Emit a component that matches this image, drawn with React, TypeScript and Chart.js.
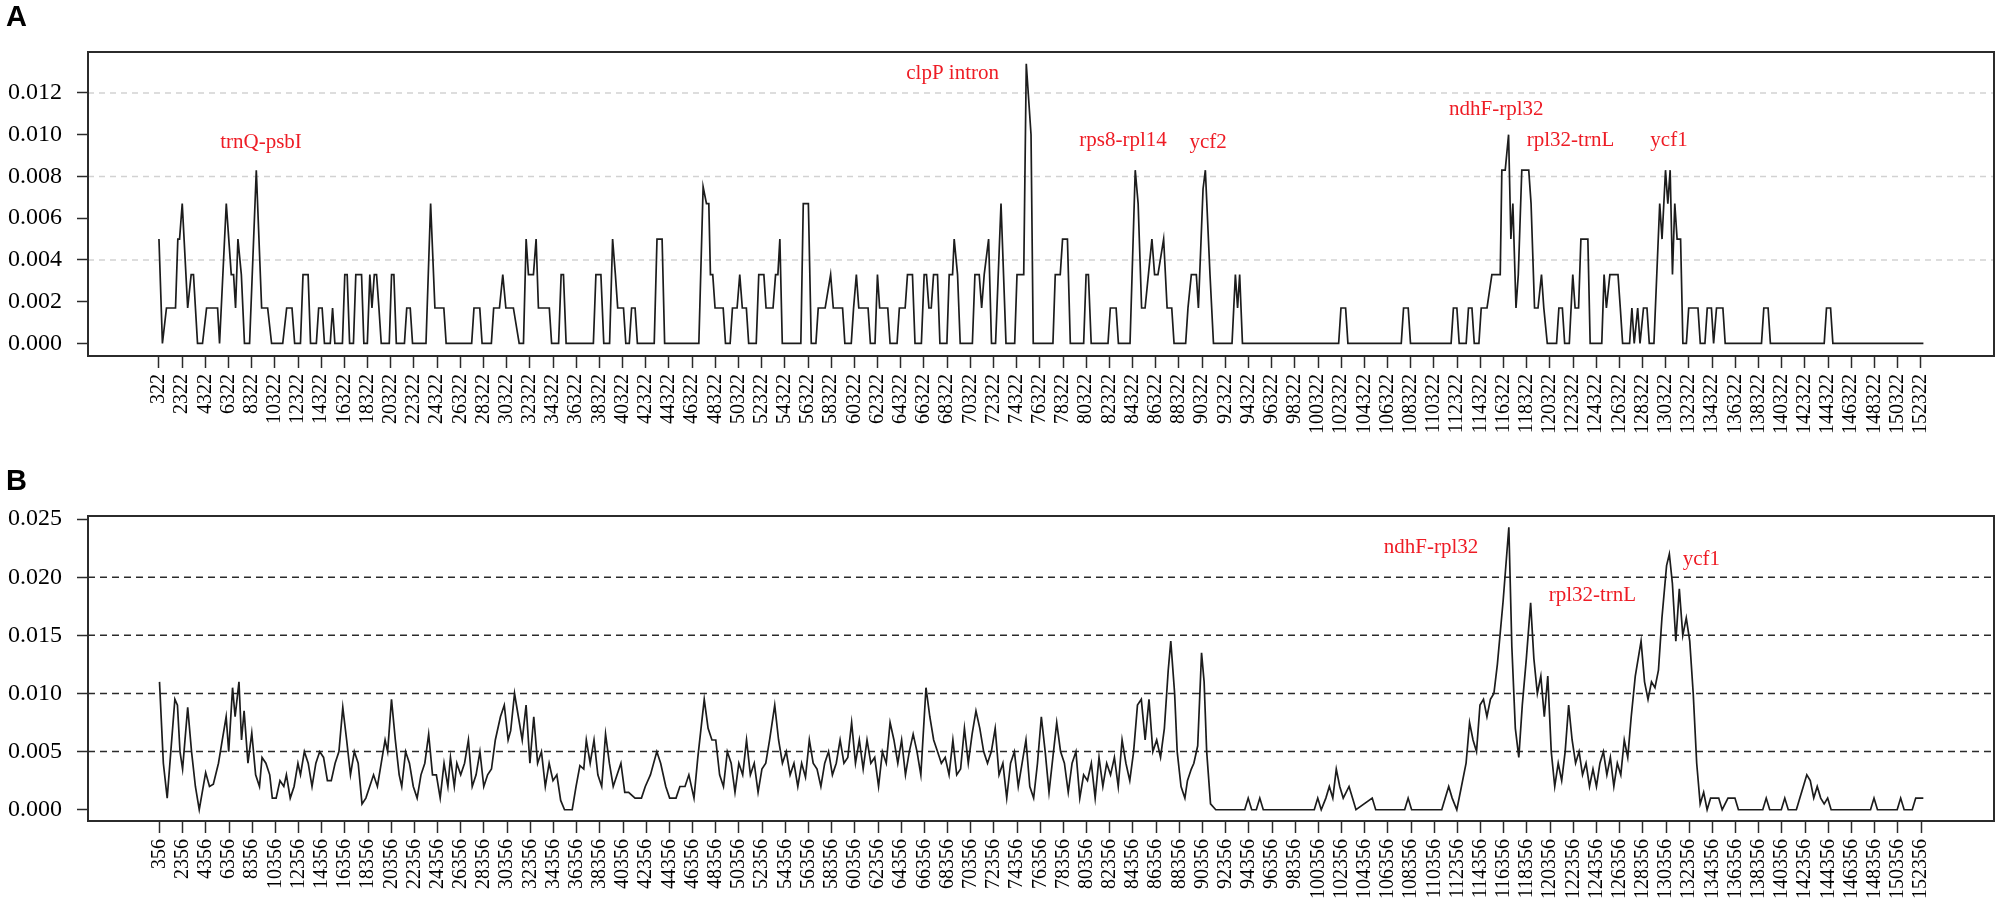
import React, { useEffect, useRef } from "react";
import { Chart, registerables } from "chart.js";
Chart.register(...registerables);

// ---------- tick labels ----------
const ticksA = [322, 2322, 4322, 6322, 8322, 10322, 12322, 14322, 16322, 18322, 20322, 22322, 24322, 26322, 28322, 30322, 32322, 34322, 36322, 38322, 40322, 42322, 44322, 46322, 48322, 50322, 52322, 54322, 56322, 58322, 60322, 62322, 64322, 66322, 68322, 70322, 72322, 74322, 76322, 78322, 80322, 82322, 84322, 86322, 88322, 90322, 92322, 94322, 96322, 98322, 100322, 102322, 104322, 106322, 108322, 110322, 112322, 114322, 116322, 118322, 120322, 122322, 124322, 126322, 128322, 130322, 132322, 134322, 136322, 138322, 140322, 142322, 144322, 146322, 148322, 150322, 152322];
const ticksB = [356, 2356, 4356, 6356, 8356, 10356, 12356, 14356, 16356, 18356, 20356, 22356, 24356, 26356, 28356, 30356, 32356, 34356, 36356, 38356, 40356, 42356, 44356, 46356, 48356, 50356, 52356, 54356, 56356, 58356, 60356, 62356, 64356, 66356, 68356, 70356, 72356, 74356, 76356, 78356, 80356, 82356, 84356, 86356, 88356, 90356, 92356, 94356, 96356, 98356, 100356, 102356, 104356, 106356, 108356, 110356, 112356, 114356, 116356, 118356, 120356, 122356, 124356, 126356, 128356, 130356, 132356, 134356, 136356, 138356, 140356, 142356, 144356, 146356, 148356, 150356, 152356];
const yTicksA = [0, 0.002, 0.004, 0.006, 0.008, 0.01, 0.012];
const yTicksB = [0, 0.005, 0.01, 0.015, 0.02, 0.025];
const gridA = [0.004, 0.008, 0.012];
const gridB = [0.005, 0.01, 0.015, 0.02];

// ---------- panel A series (window midpoint, Pi) ----------
const posA = [322, 620, 970, 1750, 1950, 2100, 2330, 2800, 3100, 3300, 3650, 4080, 4430, 5380, 5550, 6130, 6560, 6760, 6930, 7135, 7430, 7700, 8140, 8720, 9180, 9700, 10040, 11000, 11340, 11800, 12030, 12530, 12750, 13190, 13400, 13900, 14100, 14400, 14600, 15100, 15300, 15500, 16150, 16355, 16560, 16770, 17100, 17305, 17800, 18000, 18300, 18515, 18700, 18900, 19095, 19300, 19500, 20190, 20390, 20590, 20800, 21500, 21700, 22000, 22200, 23360, 23760, 24130, 24900, 25100, 27300, 27500, 28000, 28200, 29000, 29200, 29700, 29985, 30250, 30900, 31400, 31770, 32000, 32200, 32630, 32860, 33060, 34000, 34200, 34800, 35020, 35220, 35450, 37800, 38020, 38450, 38700, 39200, 39460, 39700, 39900, 40400, 40600, 40900, 41100, 41400, 41600, 43050, 43290, 43730, 43950, 46900, 47270, 47560, 47760, 47900, 48100, 48300, 49000, 49200, 49600, 49800, 50200, 50430, 50650, 51000, 51200, 51850, 52070, 52510, 52700, 53300, 53520, 53720, 53890, 54100, 55700, 55910, 56350, 56600, 57000, 57200, 57800, 58270, 58500, 59300, 59500, 60050, 60250, 60490, 60700, 61500, 61700, 62100, 62310, 62500, 63200, 63400, 64000, 64200, 64700, 64900, 65330, 65550, 66100, 66340, 66540, 66750, 66950, 67150, 67490, 67700, 68300, 68500, 68790, 68930, 69220, 69450, 70500, 70720, 71090, 71300, 71520, 71900, 72150, 72500, 72970, 73400, 74150, 74350, 74930, 75150, 75560, 75750, 77450, 77650, 78080, 78280, 78700, 78950, 80100, 80310, 80510, 80750, 82200, 82400, 82900, 83100, 84100, 84550, 84800, 85100, 85400, 85990, 86220, 86510, 87000, 87300, 87700, 87900, 88900, 89100, 89390, 89820, 90000, 90400, 90600, 91000, 91300, 92900, 93190, 93380, 93560, 93800, 102100, 102300, 102700, 102900, 107500, 107700, 108100, 108300, 111800, 112000, 112300, 112500, 113100, 113300, 113600, 113800, 114200, 114400, 114900, 115320, 116040, 116180, 116470, 116760, 116960, 117130, 117400, 117600, 117900, 118500, 118700, 119000, 119300, 119600, 119800, 120100, 120900, 121100, 121400, 121600, 122000, 122300, 122500, 122800, 123000, 123600, 123800, 124800, 125000, 125200, 125500, 126200, 126400, 126600, 127200, 127400, 127600, 127900, 128100, 128400, 128700, 128900, 129300, 129800, 130000, 130300, 130500, 130700, 130900, 131100, 131300, 131600, 131800, 132100, 132300, 133100, 133300, 133700, 133900, 134260, 134450, 134700, 135250, 135450, 138580, 138780, 139150, 139350, 143990, 144190, 144540, 144740, 152550];
const piA = [0.005, 0, 0.0017, 0.0017, 0.005, 0.005, 0.0067, 0.0017, 0.0033, 0.0033, 0, 0, 0.0017, 0.0017, 0, 0.0067, 0.0033, 0.0033, 0.0017, 0.005, 0.0033, 0, 0, 0.0083, 0.0017, 0.0017, 0, 0, 0.0017, 0.0017, 0, 0, 0.0033, 0.0033, 0, 0, 0.0017, 0.0017, 0, 0, 0.0017, 0, 0, 0.0033, 0.0033, 0, 0, 0.0033, 0.0033, 0, 0, 0.0033, 0.0017, 0.0033, 0.0033, 0.0017, 0, 0, 0.0033, 0.0033, 0, 0, 0.0017, 0.0017, 0, 0, 0.0067, 0.0017, 0.0017, 0, 0, 0.0017, 0.0017, 0, 0, 0.0017, 0.0017, 0.0033, 0.0017, 0.0017, 0, 0, 0.005, 0.0033, 0.0033, 0.005, 0.0017, 0.0017, 0, 0, 0.0033, 0.0033, 0, 0, 0.0033, 0.0033, 0, 0, 0.005, 0.0033, 0.0017, 0.0017, 0, 0, 0.0017, 0.0017, 0, 0, 0.005, 0.005, 0, 0, 0.0075, 0.0067, 0.0067, 0.0033, 0.0033, 0.0017, 0.0017, 0, 0, 0.0017, 0.0017, 0.0033, 0.0017, 0.0017, 0, 0, 0.0033, 0.0033, 0.0017, 0.0017, 0.0033, 0.0033, 0.005, 0, 0, 0.0067, 0.0067, 0, 0, 0.0017, 0.0017, 0.0033, 0.0017, 0.0017, 0, 0, 0.0017, 0.0033, 0.0017, 0.0017, 0, 0, 0.0033, 0.0017, 0.0017, 0, 0, 0.0017, 0.0017, 0.0033, 0.0033, 0, 0, 0.0033, 0.0033, 0.0017, 0.0017, 0.0033, 0.0033, 0, 0, 0.0033, 0.0033, 0.005, 0.0033, 0, 0, 0.0033, 0.0033, 0.0017, 0.0033, 0.005, 0, 0, 0.0067, 0, 0, 0.0033, 0.0033, 0.0134, 0.01, 0, 0, 0.0033, 0.0033, 0.005, 0.005, 0, 0, 0.0033, 0.0033, 0, 0, 0.0017, 0.0017, 0, 0, 0.0083, 0.0067, 0.0017, 0.0017, 0.005, 0.0033, 0.0033, 0.005, 0.0017, 0.0017, 0, 0, 0.0017, 0.0033, 0.0033, 0.0017, 0.0074, 0.0083, 0.0033, 0, 0, 0.0033, 0.0017, 0.0033, 0, 0, 0.0017, 0.0017, 0, 0, 0.0017, 0.0017, 0, 0, 0.0017, 0.0017, 0, 0, 0.0017, 0.0017, 0, 0, 0.0017, 0.0017, 0.0033, 0.0033, 0.0083, 0.0083, 0.01, 0.005, 0.0067, 0.0017, 0.0033, 0.0083, 0.0083, 0.0067, 0.0017, 0.0017, 0.0033, 0.0017, 0, 0, 0.0017, 0.0017, 0, 0, 0.0033, 0.0017, 0.0017, 0.005, 0.005, 0, 0, 0.0033, 0.0017, 0.0033, 0.0033, 0.0017, 0, 0, 0.0017, 0, 0.0017, 0, 0.0017, 0.0017, 0, 0, 0.0067, 0.005, 0.0083, 0.0067, 0.0083, 0.0033, 0.0067, 0.005, 0.005, 0, 0, 0.0017, 0.0017, 0, 0, 0.0017, 0.0017, 0, 0.0017, 0.0017, 0, 0, 0.0017, 0.0017, 0, 0, 0.0017, 0.0017, 0, 0];

// ---------- panel B series ----------
const posB = [356, 688, 1020, 1683, 1904, 2126, 2347, 2789, 3121, 3453, 3785, 4338, 4670, 5001, 5444, 5776, 6107, 6328, 6660, 6881, 7213, 7434, 7656, 7988, 8319, 8651, 8983, 9204, 9536, 9868, 10089, 10421, 10752, 11084, 11305, 11637, 11969, 12301, 12522, 12854, 13186, 13517, 13849, 14181, 14513, 14845, 15176, 15508, 15840, 16172, 16504, 16835, 17167, 17499, 17831, 18163, 18494, 18826, 19158, 19490, 19822, 20043, 20375, 20706, 21038, 21259, 21591, 21923, 22255, 22587, 22918, 23250, 23582, 23914, 24246, 24577, 24909, 25241, 25462, 25794, 26015, 26347, 26679, 27011, 27342, 27674, 28006, 28338, 28670, 29001, 29333, 29776, 30107, 30439, 30660, 30992, 31324, 31656, 31988, 32319, 32651, 32983, 33315, 33647, 33978, 34310, 34642, 34974, 35306, 35969, 36301, 36633, 36965, 37186, 37518, 37850, 38181, 38513, 38845, 39177, 39508, 39840, 40172, 40504, 40836, 41389, 41942, 42274, 42716, 43269, 43600, 44043, 44375, 44928, 45260, 45702, 46034, 46476, 46808, 47361, 47693, 48025, 48356, 48688, 49020, 49352, 49684, 50015, 50347, 50679, 51011, 51343, 51674, 52006, 52338, 52670, 53002, 53444, 53776, 54108, 54439, 54771, 55103, 55435, 55767, 56098, 56430, 56762, 57094, 57426, 57757, 58089, 58421, 58753, 59085, 59416, 59748, 60080, 60412, 60744, 61075, 61407, 61739, 62071, 62403, 62734, 63066, 63398, 63730, 64062, 64393, 64725, 65057, 65389, 65721, 66052, 66495, 66827, 67158, 67490, 67822, 68154, 68486, 68817, 69149, 69481, 69813, 70145, 70476, 70808, 71140, 71472, 71804, 72135, 72467, 72799, 73131, 73463, 73794, 74126, 74458, 74790, 75122, 75453, 75785, 76117, 76449, 76781, 77112, 77444, 77776, 78108, 78440, 78771, 79103, 79435, 79767, 80099, 80430, 80762, 81094, 81426, 81758, 82089, 82421, 82753, 83085, 83417, 83748, 84080, 84412, 84744, 85076, 85407, 85739, 86071, 86403, 86735, 87066, 87398, 87619, 87951, 88172, 88504, 88836, 89057, 89389, 89610, 89942, 90274, 90495, 90717, 91049, 91500, 94000, 94300, 94600, 95000, 95300, 95600, 100000, 100300, 100600, 101000, 101300, 101600, 101900, 102200, 102500, 103000, 103300, 103600, 105000, 105300, 105600, 107800, 108100, 108400, 111000, 111300, 111600, 111900, 112300, 112700, 113100, 113400, 113700, 114000, 114300, 114600, 114900, 115200, 115500, 115800, 116300, 116790, 117050, 117350, 117650, 117950, 118300, 118670, 118950, 119250, 119550, 119850, 120150, 120450, 120750, 121050, 121350, 121650, 121950, 122250, 122550, 122850, 123150, 123450, 123750, 124050, 124350, 124650, 124950, 125250, 125550, 125850, 126150, 126450, 126750, 127050, 127350, 127700, 128200, 128500, 128800, 129100, 129400, 129700, 130000, 130400, 130640, 130900, 131200, 131500, 131800, 132100, 132400, 132700, 133000, 133300, 133600, 133900, 134200, 134900, 135200, 135700, 136300, 136600, 138700, 139000, 139300, 140300, 140600, 140900, 141600, 141900, 142200, 142500, 142800, 143100, 143400, 143700, 144000, 144300, 144600, 148000, 148300, 148600, 150300, 150600, 150900, 151600, 151900, 152200, 152556];
const piB = [0.011, 0.004, 0.001, 0.0095, 0.009, 0.005, 0.0035, 0.0088, 0.005, 0.002, 0, 0.0032, 0.002, 0.0022, 0.004, 0.006, 0.008, 0.005, 0.0105, 0.008, 0.011, 0.006, 0.0085, 0.004, 0.0066, 0.003, 0.002, 0.0045, 0.004, 0.003, 0.001, 0.001, 0.0025, 0.002, 0.003, 0.001, 0.002, 0.004, 0.003, 0.005, 0.004, 0.002, 0.004, 0.005, 0.0045, 0.0025, 0.0025, 0.004, 0.005, 0.0088, 0.006, 0.003, 0.005, 0.004, 0.0005, 0.001, 0.002, 0.003, 0.002, 0.004, 0.006, 0.005, 0.0095, 0.006, 0.003, 0.002, 0.005, 0.004, 0.002, 0.001, 0.003, 0.004, 0.0065, 0.003, 0.003, 0.001, 0.004, 0.002, 0.0045, 0.002, 0.004, 0.003, 0.004, 0.006, 0.002, 0.003, 0.005, 0.002, 0.003, 0.0035, 0.006, 0.008, 0.009, 0.006, 0.0068, 0.01, 0.008, 0.006, 0.009, 0.004, 0.008, 0.004, 0.005, 0.002, 0.004, 0.0025, 0.003, 0.0008, 0, 0, 0.002, 0.0038, 0.0035, 0.006, 0.004, 0.006, 0.003, 0.002, 0.0065, 0.004, 0.002, 0.003, 0.004, 0.0015, 0.0015, 0.001, 0.001, 0.002, 0.003, 0.005, 0.004, 0.002, 0.001, 0.001, 0.002, 0.002, 0.003, 0.001, 0.0045, 0.0095, 0.007, 0.006, 0.006, 0.003, 0.002, 0.005, 0.004, 0.0015, 0.004, 0.003, 0.006, 0.003, 0.004, 0.0015, 0.0035, 0.004, 0.006, 0.009, 0.006, 0.004, 0.005, 0.003, 0.004, 0.002, 0.004, 0.0028, 0.006, 0.004, 0.0035, 0.002, 0.004, 0.005, 0.003, 0.004, 0.006, 0.004, 0.0045, 0.0075, 0.004, 0.006, 0.0035, 0.006, 0.004, 0.0045, 0.002, 0.005, 0.004, 0.0075, 0.006, 0.004, 0.006, 0.003, 0.005, 0.0065, 0.005, 0.003, 0.0105, 0.008, 0.006, 0.005, 0.004, 0.0045, 0.003, 0.006, 0.003, 0.0035, 0.007, 0.004, 0.0065, 0.0085, 0.007, 0.005, 0.004, 0.005, 0.007, 0.003, 0.004, 0.001, 0.004, 0.005, 0.002, 0.004, 0.006, 0.002, 0.001, 0.004, 0.008, 0.005, 0.0015, 0.0045, 0.0075, 0.005, 0.004, 0.0015, 0.004, 0.005, 0.001, 0.003, 0.0025, 0.004, 0.001, 0.0045, 0.002, 0.004, 0.003, 0.0045, 0.002, 0.006, 0.004, 0.0025, 0.005, 0.009, 0.0095, 0.006, 0.0095, 0.005, 0.006, 0.0045, 0.007, 0.012, 0.0145, 0.01, 0.005, 0.002, 0.001, 0.0025, 0.0035, 0.004, 0.0055, 0.0135, 0.011, 0.005, 0.0005, 0, 0, 0.001, 0, 0, 0.001, 0, 0, 0.001, 0, 0.001, 0.002, 0.001, 0.0035, 0.002, 0.001, 0.002, 0.001, 0, 0.001, 0, 0, 0, 0.001, 0, 0, 0.001, 0.002, 0.001, 0, 0.002, 0.004, 0.0075, 0.006, 0.005, 0.009, 0.0095, 0.008, 0.0095, 0.01, 0.0125, 0.018, 0.0243, 0.014, 0.007, 0.0045, 0.009, 0.013, 0.0178, 0.013, 0.01, 0.0115, 0.008, 0.0115, 0.005, 0.002, 0.004, 0.0025, 0.005, 0.009, 0.006, 0.004, 0.005, 0.003, 0.004, 0.002, 0.0035, 0.002, 0.004, 0.005, 0.003, 0.0045, 0.002, 0.004, 0.003, 0.006, 0.0045, 0.008, 0.0115, 0.0145, 0.011, 0.0095, 0.011, 0.0105, 0.012, 0.0165, 0.021, 0.022, 0.0195, 0.0145, 0.019, 0.015, 0.0165, 0.0145, 0.01, 0.004, 0.0005, 0.0015, 0, 0.001, 0.001, 0, 0.001, 0.001, 0, 0, 0.001, 0, 0, 0.001, 0, 0, 0.001, 0.002, 0.003, 0.0025, 0.001, 0.002, 0.001, 0.0005, 0.001, 0, 0, 0.001, 0, 0, 0.001, 0, 0, 0.001, 0.001, 0.001];

// ---------- region annotations ----------
const namesA = ["trnQ-psbI", "clpP intron", "rps8-rpl14", "ycf2", "ndhF-rpl32", "rpl32-trnL", "ycf1"];
const namePosA = [9124, 68793, 83504, 90840, 115700, 122100, 130600];
const nameValA = [0.00964, 0.01295, 0.00974, 0.00964, 0.01122, 0.00974, 0.00974];
const namesB = ["ndhF-rpl32", "rpl32-trnL", "ycf1"];
const namePosB = [110070, 124000, 133400];
const nameValB = [0.02259, 0.01845, 0.02155];

const SERIF = '"Liberation Serif", "Times New Roman", serif';

type PanelCfg = {
  pos: number[]; vals: number[]; xTicks: number[]; yTicks: number[];
  xMin: number; xMax: number; yMin: number; yMax: number;
  grid: number[]; gridColor: string; dash: number[];
  names: string[]; namePos: number[]; nameVal: number[];
  padTop: number; xAxisH: number;
};

function makeFramePlugin(cfg: PanelCfg) {
  return {
    id: "frameAndNotes",
    beforeDatasetsDraw(chart: any) {
      const { ctx, chartArea: a, scales } = chart;
      ctx.save();
      ctx.strokeStyle = cfg.gridColor;
      ctx.lineWidth = 1.5;
      ctx.setLineDash(cfg.dash);
      for (const v of cfg.grid) {
        const py = scales.y.getPixelForValue(v);
        ctx.beginPath();
        ctx.moveTo(a.left, py);
        ctx.lineTo(a.right, py);
        ctx.stroke();
      }
      ctx.restore();
    },
    afterDatasetsDraw(chart: any) {
      const { ctx, chartArea: a, scales } = chart;
      ctx.save();
      ctx.fillStyle = "#ee1c25";
      ctx.font = `21px ${SERIF}`;
      ctx.textAlign = "center";
      ctx.textBaseline = "middle";
      cfg.names.forEach((t, i) => {
        ctx.fillText(t, scales.x.getPixelForValue(cfg.namePos[i]), scales.y.getPixelForValue(cfg.nameVal[i]));
      });
      ctx.strokeStyle = "#2b2b2b";
      ctx.lineWidth = 2;
      ctx.setLineDash([]);
      ctx.strokeRect(a.left, a.top, a.right - a.left, a.bottom - a.top);
      ctx.restore();
    },
  };
}

function Panel({ cfg, top }: { cfg: PanelCfg; top: number }) {
  const ref = useRef<HTMLCanvasElement | null>(null);
  useEffect(() => {
    if (!ref.current) return;
    const chart = new Chart(ref.current, {
      type: "line",
      data: {
        datasets: [
          {
            data: cfg.pos.map((x, i) => ({ x, y: cfg.vals[i] })),
            borderColor: "#1c1c1c",
            borderWidth: 1.7,
            pointRadius: 0,
            tension: 0,
            fill: false,
          },
        ],
      },
      options: {
        animation: false,
        responsive: false,
        layout: { padding: { top: cfg.padTop, right: 6, left: 0, bottom: 0 } },
        plugins: { legend: { display: false }, tooltip: { enabled: false } },
        scales: {
          x: {
            type: "linear",
            min: cfg.xMin,
            max: cfg.xMax,
            afterBuildTicks: (s: any) => { s.ticks = cfg.xTicks.map((v) => ({ value: v })); },
            afterFit: (s: any) => { s.height = cfg.xAxisH; },
            grid: { drawOnChartArea: false, drawTicks: true, tickLength: 12, tickColor: "#2b2b2b", tickWidth: 1.5 },
            border: { display: false },
            ticks: {
              autoSkip: false, minRotation: 90, maxRotation: 90, padding: 6,
              color: "#000", font: { family: SERIF, size: 20 },
              callback: (v: any) => String(v),
            },
          },
          y: {
            type: "linear",
            min: cfg.yMin,
            max: cfg.yMax,
            afterBuildTicks: (s: any) => { s.ticks = cfg.yTicks.map((v) => ({ value: v })); },
            afterFit: (s: any) => { s.width = 88; },
            grid: { drawOnChartArea: false, drawTicks: true, tickLength: 11, tickColor: "#2b2b2b", tickWidth: 1.5 },
            border: { display: false },
            ticks: {
              padding: 15, color: "#000", font: { family: SERIF, size: 24 },
              callback: (v: any) => Number(v).toFixed(3),
            },
          },
        },
      },
      plugins: [makeFramePlugin(cfg)],
    } as any);
    return () => chart.destroy();
  }, []);
  return (
    <canvas
      ref={ref}
      width={2000}
      height={455}
      style={{ position: "absolute", left: 0, top, width: 2000, height: 455 }}
    />
  );
}

const cfgA: PanelCfg = {
  pos: posA, vals: piA, xTicks: ticksA, yTicks: yTicksA,
  xMin: -5800, xMax: 158640, yMin: -0.0006, yMax: 0.01396,
  grid: gridA, gridColor: "#d2d2d2", dash: [6, 5],
  names: namesA, namePos: namePosA, nameVal: nameValA,
  padTop: 52, xAxisH: 99,
};
const cfgB: PanelCfg = {
  pos: posB, vals: piB, xTicks: ticksB, yTicks: yTicksB,
  xMin: -5814, xMax: 158654, yMin: -0.00097, yMax: 0.02527,
  grid: gridB, gridColor: "#2b2b2b", dash: [7, 5],
  names: namesB, namePos: namePosB, nameVal: nameValB,
  padTop: 61, xAxisH: 89,
};

export default function App() {
  useEffect(() => {
    document.body.style.margin = "0";
  }, []);
  const lab: React.CSSProperties = {
    position: "absolute", left: 6, fontFamily: '"Liberation Sans", Arial, sans-serif',
    fontWeight: "bold", fontSize: 29, lineHeight: "29px", color: "#000",
  };
  return (
    <div style={{ position: "relative", width: 2000, height: 910, background: "#fff", overflow: "hidden" }}>
      <Panel cfg={cfgA} top={0} />
      <Panel cfg={cfgB} top={455} />
      <div style={{ ...lab, top: 2 }}>A</div>
      <div style={{ ...lab, top: 466 }}>B</div>
    </div>
  );
}
